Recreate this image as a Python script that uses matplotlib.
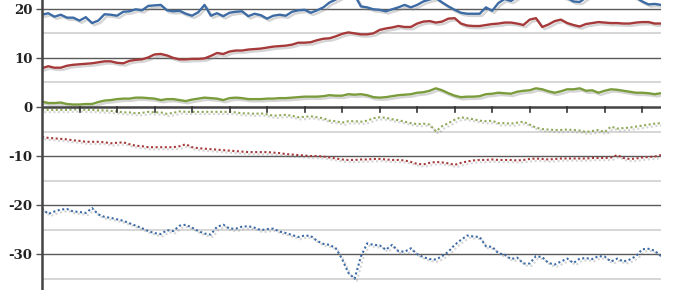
import matplotlib
matplotlib.use("Agg")
from matplotlib import pyplot as plt
from matplotlib import patheffects as pe
import numpy as np

# two-monthly points, x in years from the start
years = np.arange(100) / 6.0

blue_solid = [18.8, 19.1, 18.4, 18.8, 18.2, 18.2, 17.6, 18.3, 17.1, 17.6,
              18.9, 18.8, 18.6, 19.4, 19.5, 19.9, 19.7, 20.6, 20.7, 20.8,
              19.7, 19.5, 19.6, 19.0, 18.6, 19.3, 20.8, 18.6, 19.1, 18.5,
              19.2, 19.4, 19.5, 18.5, 19.0, 18.7, 18.0, 18.6, 18.8, 18.6,
              19.4, 19.7, 19.8, 19.2, 19.7, 20.3, 21.3, 21.9, 22.6, 23.0,
              22.8, 20.5, 20.3, 19.9, 19.8, 19.5, 19.9, 20.3, 20.8, 20.3,
              20.8, 21.5, 21.9, 22.2, 21.3, 20.5, 19.8, 19.2, 19.0, 19.0,
              19.0, 20.3, 19.6, 21.2, 22.0, 21.6, 22.4, 23.0, 23.3, 23.0,
              23.5, 23.2, 22.8, 22.6, 22.2, 21.5, 21.4, 22.3, 23.0, 23.3,
              23.6, 23.2, 22.9, 22.6, 22.8, 22.3, 21.5, 20.9, 21.0, 20.8]

red_solid = [7.9, 8.3, 8.0, 8.0, 8.4, 8.6, 8.7, 8.8, 8.9, 9.1,
             9.3, 9.3, 9.0, 8.9, 9.4, 9.6, 9.7, 10.1, 10.7, 10.8,
             10.5, 10.0, 9.7, 9.7, 9.8, 9.8, 9.9, 10.4, 11.0, 10.8,
             11.3, 11.5, 11.5, 11.7, 11.8, 11.9, 12.1, 12.3, 12.4, 12.5,
             12.7, 13.1, 13.1, 13.2, 13.6, 13.9, 14.0, 14.4, 14.9, 15.2,
             15.0, 14.8, 14.8, 15.0, 15.7, 16.0, 16.2, 16.5, 16.3, 16.3,
             17.0, 17.4, 17.5, 17.2, 17.4, 18.0, 18.1, 17.0, 16.6, 16.5,
             16.5, 16.7, 16.9, 17.0, 17.2, 17.2, 17.0, 16.7, 17.8, 18.1,
             16.3, 16.8, 17.5, 17.8, 17.1, 16.7, 16.4, 16.9, 17.1, 17.3,
             17.2, 17.1, 17.1, 17.0, 17.0, 17.2, 17.3, 17.3, 17.0, 17.0]

green_solid = [1.1, 0.8, 0.8, 0.9, 0.6, 0.5, 0.5, 0.6, 0.6, 1.0,
               1.3, 1.4, 1.6, 1.7, 1.7, 1.9, 1.9, 1.8, 1.7, 1.4,
               1.6, 1.6, 1.4, 1.2, 1.5, 1.7, 1.9, 1.8, 1.7, 1.4,
               1.8, 1.9, 1.8, 1.6, 1.6, 1.6, 1.7, 1.7, 1.8, 1.8,
               1.9, 2.0, 2.1, 2.1, 2.1, 2.2, 2.4, 2.3, 2.3, 2.6,
               2.5, 2.6, 2.4, 2.0, 1.9, 2.0, 2.2, 2.4, 2.5, 2.6,
               2.9, 3.0, 3.3, 3.8, 3.4, 2.8, 2.3, 2.0, 2.1, 2.1,
               2.2, 2.6, 2.7, 2.9, 2.8, 2.7, 3.1, 3.3, 3.4, 3.8,
               3.6, 3.2, 2.9, 3.2, 3.6, 3.6, 3.8, 3.3, 3.4, 2.9,
               3.3, 3.6, 3.5, 3.3, 3.1, 2.9, 2.9, 2.8, 2.6, 2.8]

green_dotted = [-0.6, -0.6, -0.6, -0.6, -0.6, -0.5, -0.5, -0.6, -0.6, -0.7,
                -0.7, -0.8, -0.9, -1.1, -1.1, -1.3, -1.2, -1.0, -1.1, -1.1,
                -1.4, -1.2, -0.9, -1.0, -1.0, -1.0, -1.0, -1.0, -1.0, -1.0,
                -1.0, -1.1, -1.3, -1.3, -1.4, -1.3, -1.5, -1.8, -1.7, -1.6,
                -1.8, -2.1, -2.0, -1.9, -2.1, -2.3, -2.8, -2.9, -3.2, -2.9,
                -2.9, -3.0, -2.8, -2.3, -2.1, -2.2, -2.5, -2.7, -3.0, -3.3,
                -3.5, -3.4, -3.6, -5.0, -3.9, -3.3, -2.6, -2.1, -2.3, -2.5,
                -2.8, -2.9, -2.8, -3.3, -3.3, -3.4, -3.2, -3.0, -3.6, -4.2,
                -4.5, -4.6, -4.7, -4.7, -4.6, -4.7, -4.8, -5.1, -4.9, -4.7,
                -5.1, -4.0, -4.4, -4.3, -4.2, -4.0, -3.8, -3.6, -3.4, -3.3]

red_dotted = [-6.1, -6.3, -6.4, -6.5, -6.6, -6.8, -6.9, -7.1, -7.1, -7.1,
              -7.2, -7.4, -7.3, -7.2, -7.6, -7.9, -8.0, -8.2, -8.2, -8.2,
              -8.2, -8.2, -8.0, -7.6, -8.2, -8.4, -8.5, -8.6, -8.7, -8.8,
              -8.9, -9.0, -9.1, -9.2, -9.2, -9.2, -9.2, -9.3, -9.4, -9.6,
              -9.7, -9.8, -9.9, -10.0, -10.0, -10.1, -10.3, -10.5, -10.7, -10.8,
              -10.8, -10.7, -10.7, -10.6, -10.6, -10.7, -10.8, -10.8, -10.9, -11.2,
              -11.6, -11.7, -11.4, -11.2, -11.3, -11.5, -11.8, -11.4, -11.1, -10.9,
              -10.8, -10.8, -10.7, -10.8, -10.8, -10.8, -10.9, -10.8, -10.6, -10.5,
              -10.6, -10.7, -10.6, -10.5, -10.5, -10.5, -10.5, -10.5, -10.4, -10.4,
              -10.4, -10.3, -9.8, -10.4, -10.6, -10.5, -10.3, -10.2, -10.1, -9.8]

blue_dotted = [-20.7, -21.8, -21.3, -20.9, -20.8, -21.3, -21.4, -21.6, -20.6, -21.9,
               -22.4, -22.6, -22.9, -23.2, -23.7, -24.2, -24.7, -25.3, -25.7, -25.9,
               -25.1, -25.3, -24.2, -24.0, -24.6, -25.3, -25.8, -26.0, -24.4, -24.0,
               -24.8, -24.8, -24.4, -24.3, -24.6, -25.1, -24.9, -24.8, -25.4, -25.7,
               -26.1, -26.5, -26.2, -26.3, -27.3, -27.9, -28.1, -28.8, -31.0, -33.8,
               -35.0, -30.5, -27.8, -28.1, -28.2, -29.1, -28.1, -29.4, -29.5, -28.8,
               -30.0, -30.6, -31.0, -31.1, -30.4, -29.5, -28.1, -27.1, -26.2, -26.4,
               -26.5, -28.4, -28.5, -29.8, -30.1, -31.0, -30.7, -31.9, -31.9, -30.4,
               -30.6, -31.8, -32.1, -31.5, -30.9, -31.8, -30.9, -30.8, -31.0, -30.4,
               -30.5, -31.5, -30.9, -31.5, -31.1, -30.4, -29.0, -28.9, -29.3, -30.4]

y_ticks = [-30, -20, -10, 0, 10, 20]
y_minor = [-35, -25, -15, -5, 5, 15]

BLUE = "#3d6ba4"
RED = "#a63a3a"
GREEN = "#7b9c3c"
GREEN_LIGHT = "#8faa5a"

shadow = [pe.SimpleLineShadow(offset=(1.6, -1.6), shadow_color="#888888", alpha=0.35),
          pe.Normal()]


def main():
    fig = plt.figure(figsize=(6.8, 2.9), dpi=100)
    ax = fig.add_axes([42 / 680, 0, 619 / 680, 1])

    for v in y_minor:
        ax.axhline(v, color="#d0d0d0", lw=1.2, zorder=1)
    for v in y_ticks:
        if v != 0:
            ax.axhline(v, color="#5a5a5a", lw=1.0, zorder=1)

    ax.plot(years, blue_solid, color=BLUE, lw=1.7, path_effects=shadow, zorder=3)
    ax.plot(years, red_solid, color=RED, lw=1.7, path_effects=shadow, zorder=3)
    ax.plot(years, green_solid, color=GREEN, lw=1.7, path_effects=shadow, zorder=3)
    ax.plot(years, green_dotted, color=GREEN_LIGHT, lw=1.5, dashes=(1, 1.2),
            path_effects=shadow, zorder=3)
    ax.plot(years, red_dotted, color=RED, lw=1.5, dashes=(1, 1.2),
            path_effects=shadow, zorder=3)
    ax.plot(years, blue_dotted, color=BLUE, lw=1.5, dashes=(1, 1.2),
            path_effects=shadow, zorder=3)

    # x axis drawn at zero with yearly ticks hanging below
    ax.axhline(0, color="#444444", lw=1.8, zorder=4)
    for t in range(1, 17):
        ax.plot([t, t], [0, -1.0], color="#333333", lw=1.2, zorder=4)

    ax.set_xlim(0, years[-1])
    ax.set_ylim(-37.3, 21.8)
    ax.set_xticks([])
    ax.set_yticks(y_ticks)
    ax.set_yticklabels([str(v) for v in y_ticks], family="DejaVu Serif",
                       fontweight="bold", fontsize=9.5, color="#222222")
    ax.tick_params(axis="y", length=4, width=1, color="#555555", pad=3)

    for s in ["top", "right", "bottom"]:
        ax.spines[s].set_visible(False)
    ax.spines["left"].set_color("#444444")
    ax.spines["left"].set_linewidth(1.8)
    ax.spines["left"].set_zorder(5)

    fig.savefig("out.png", dpi=100)


if __name__ == "__main__":
    main()
